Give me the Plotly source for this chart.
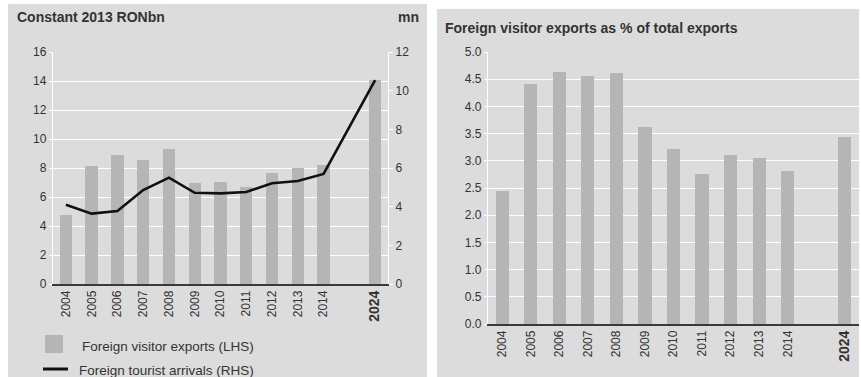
import plotly.graph_objects as go

# ---- data ----
years = ["2004", "2005", "2006", "2007", "2008", "2009", "2010",
         "2011", "2012", "2013", "2014", "2024"]
visitor_exports_ronbn = [4.74, 8.12, 8.90, 8.55, 9.33, 6.94, 7.03,
                         6.69, 7.66, 8.00, 8.20, 14.10]
tourist_arrivals_mn = [4.10, 3.64, 3.78, 4.86, 5.50, 4.72, 4.69,
                       4.76, 5.21, 5.33, 5.69, 10.55]
exports_share_pct = [2.44, 4.41, 4.64, 4.55, 4.62, 3.62, 3.22,
                     2.75, 3.10, 3.05, 2.82, 3.43]

# one empty slot separates the history from the 2024 forecast
category_order = years[:-1] + [" "] + years[-1:]
tick_text = years[:-1] + ["<b><span style='font-size:14px'>2024</span></b>"]

W, H = 861, 377
PANEL = "#dcdcdc"
BAR = "#b5b5b5"
INK = "#333333"
FONT = "Liberation Sans, Arial, sans-serif"


def px(x):
    return x / W


def py(y):
    return 1 - y / H


fig = go.Figure()

fig.add_trace(go.Bar(
    x=years, y=visitor_exports_ronbn, name="Foreign visitor exports (LHS)",
    marker=dict(color=BAR, line=dict(width=0)), width=0.48,
    xaxis="x", yaxis="y", showlegend=False))
fig.add_trace(go.Scatter(
    x=years, y=tourist_arrivals_mn, name="Foreign tourist arrivals (RHS)",
    mode="lines", line=dict(color="#111111", width=2.6),
    xaxis="x", yaxis="y2", showlegend=False))
fig.add_trace(go.Bar(
    x=years, y=exports_share_pct, name="Foreign visitor exports as % of total exports",
    marker=dict(color=BAR, line=dict(width=0)), width=0.46,
    xaxis="x3", yaxis="y3", showlegend=False))

tick_font = dict(family=FONT, size=12, color=INK)

xcommon = dict(type="category", categoryorder="array", categoryarray=category_order,
               tickvals=years, ticktext=tick_text, tickangle=-90,
               range=[-0.5, len(category_order) - 0.5], automargin=False,
               showline=True, linecolor="#3a3a3a", linewidth=1.6,
               showgrid=False, zeroline=False, ticks="", tickfont=tick_font)
ycommon = dict(showgrid=True, gridcolor="#ffffff", gridwidth=1.3, automargin=False,
               showline=True, linecolor="#ffffff", linewidth=1.3,
               ticks="outside", tickcolor="#ffffff", ticklen=3,
               zeroline=False, tickfont=tick_font)

fig.update_layout(
    width=W, height=H,
    margin=dict(l=0, r=0, t=0, b=0, pad=0, autoexpand=False),
    paper_bgcolor="#ffffff", plot_bgcolor=PANEL,
    font=dict(family=FONT, color=INK),
    bargap=0, showlegend=False,
    xaxis=dict(domain=[px(53), px(388)], anchor="y", **xcommon),
    yaxis=dict(domain=[py(284), py(52)], anchor="x", range=[0, 16], dtick=2, **ycommon),
    yaxis2=dict(overlaying="y", side="right", anchor="x", range=[0, 12], dtick=2,
                showgrid=False, showline=True, linecolor="#ffffff", linewidth=1.3,
                ticks="outside", tickcolor="#ffffff", ticklen=4, automargin=False,
                zeroline=False, tickfont=tick_font),
    xaxis3=dict(domain=[px(488), px(859)], anchor="y3", **xcommon),
    yaxis3=dict(domain=[py(324), py(52)], anchor="x3", range=[0, 5], dtick=0.5,
                tickformat=".1f", **ycommon),
)

# panel backgrounds
fig.add_shape(type="rect", xref="paper", yref="paper", layer="below",
              x0=px(8), x1=px(427), y0=0, y1=py(4), fillcolor=PANEL, line=dict(width=0))
fig.add_shape(type="rect", xref="paper", yref="paper", layer="below",
              x0=px(437), x1=px(859), y0=0, y1=py(9), fillcolor=PANEL, line=dict(width=0))

# panel headings
heads = [
    ("<b>Constant 2013 RONbn</b>", 15, 17, "left"),
    ("<b>mn</b>", 421, 17, "right"),
    ("<b>Foreign visitor exports as % of total exports</b>", 443, 28, "left"),
]
for text, x, y, anchor in heads:
    fig.add_annotation(text=text, xref="paper", yref="paper", x=px(x), y=py(y),
                       xanchor=anchor, yanchor="middle", showarrow=False,
                       font=dict(family=FONT, size=14, color=INK))

# key for the left panel
fig.add_shape(type="rect", xref="paper", yref="paper",
              x0=px(45), x1=px(63), y0=py(353), y1=py(335),
              fillcolor=BAR, line=dict(width=0))
fig.add_shape(type="line", xref="paper", yref="paper",
              x0=px(43), x1=px(68), y0=py(369), y1=py(369),
              line=dict(color="#111111", width=3))
fig.add_annotation(text="Foreign visitor exports (LHS)", xref="paper", yref="paper",
                   x=px(80), y=py(346), xanchor="left", yanchor="middle", showarrow=False,
                   font=dict(family=FONT, size=13.5, color=INK))
fig.add_annotation(text="Foreign tourist arrivals (RHS)", xref="paper", yref="paper",
                   x=px(77), y=py(370), xanchor="left", yanchor="middle", showarrow=False,
                   font=dict(family=FONT, size=13.5, color=INK))

fig.write_html("out.html")
